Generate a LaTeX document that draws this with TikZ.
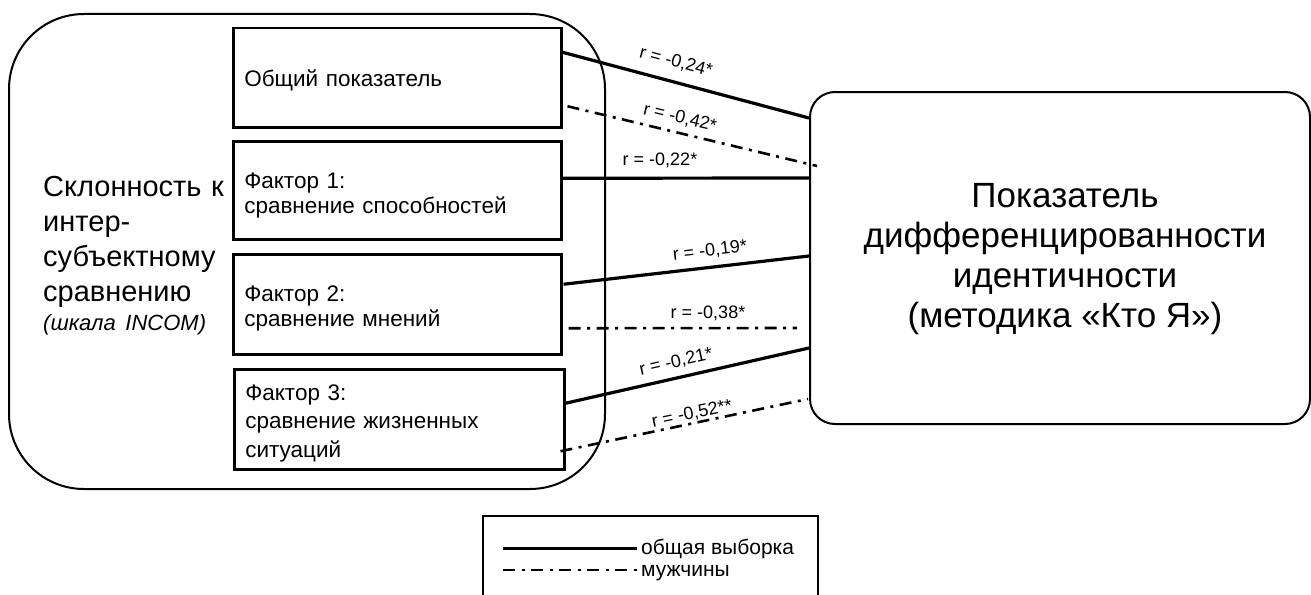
\documentclass[tikz,border=0pt]{standalone}
\usepackage{fontspec}
\setmainfont{Liberation Sans}
\newfontfamily\wideface[WordSpace=1.5]{Liberation Sans}
\newcommand{\fLeft}{\fontsize{29}{35}\selectfont}
\newcommand{\fIt}{\fontsize{22}{26}\selectfont\itshape}
\newcommand{\fBoxA}{\wideface\fontsize{22.5}{25}\selectfont}
\newcommand{\fRight}{\fontsize{35}{40}\selectfont}
\newcommand{\fLbl}{\fontsize{18}{21}\selectfont}
\newcommand{\fLeg}{\fontsize{21}{24}\selectfont}
\begin{document}
\begin{tikzpicture}[x=1pt,y=-1pt,
  outerbox/.style={draw, line width=2pt, rounded corners=75pt, anchor=north west, inner sep=0pt, minimum width=596pt, minimum height=475pt},
  targetbox/.style={draw, line width=2pt, rounded corners=25pt, anchor=north west, inner sep=0pt, minimum width=500pt, minimum height=332pt},
  itembox/.style={draw, line width=2.5pt, anchor=north west, inner xsep=11pt, inner ysep=0pt, text width=306pt, text height=24pt, minimum height=99pt, align=left, font=\fBoxA},
  solidlink/.style={line width=3.2pt},
  menlink/.style={line width=2.6pt, dash pattern=on 12pt off 6.5pt on 3pt off 6.5pt},
  lbl/.style={font=\fLbl, inner sep=0pt},
  legbox/.style={draw, line width=1.6pt, anchor=north west, inner sep=0pt, minimum width=335pt, minimum height=100pt},
]
\useasboundingbox (0,0) rectangle (1311,594);

% outer group frame
\node[outerbox] (L) at (8,13) {};
\node[font=\fLeft, align=left, anchor=base west, inner sep=0pt, text width=190pt] (Ltxt) at (43,196)
  {Склонность к\\интер-\\субъектному\\сравнению\\[-6pt]{\fIt (шкала INCOM)}};

% item boxes
\node[itembox, text height=21pt] (b1) at (232,27) {Общий показатель};
\node[itembox, minimum height=98pt, text height=27pt] (b2) at (232,140) {Фактор 1:\\сравнение способностей};
\node[itembox, minimum height=100pt] (b3) at (232,253) {Фактор 2:\\сравнение мнений};
\node[itembox, minimum height=100pt, text width=308pt, font=\wideface\fontsize{22.5}{28.5}\selectfont] (b4) at (233,368) {Фактор 3:\\сравнение жизненных\\ситуаций};

% target box
\node[targetbox] (R) at (809,91) {};
\node[font=\fRight, align=center, inner sep=0pt] (Rtxt) at (1065,259)
  {Показатель\\дифференцированности\\идентичности\\(методика «Кто Я»)};

% connectors
\draw[solidlink] ([yshift=25.5pt]b1.east) -- ([yshift=140pt]R.west);
\draw[menlink] ([xshift=5pt,yshift=-28.5pt]b1.east) -- ([xshift=8pt,yshift=92pt]R.west);
\draw[solidlink] ([yshift=12pt]b2.east) -- ([yshift=80pt]R.west);
\draw[solidlink] ([xshift=1pt,yshift=20pt]b3.east) -- ([yshift=2pt]R.west);
\draw[menlink] ([xshift=6pt,yshift=-24pt]b3.east) -- ([xshift=-12pt,yshift=-70pt]R.west);
\draw[solidlink] ([yshift=16pt]b4.east) -- ([yshift=-90pt]R.west);
\draw[menlink] ([xshift=-5pt,yshift=-32pt]b4.east) -- ([xshift=-1pt,yshift=-141pt]R.west);

% labels
\node[lbl, rotate=-15] (r1) at (676,62) {r = -0,24*};
\node[lbl, rotate=-13.4] (r2) at (680,118) {r = -0,42*};
\node[lbl] (r3) at (660,160) {r = -0,22*};
\node[lbl, rotate=6.5] (r4) at (710,251) {r = -0,19*};
\node[lbl] (r5) at (708,313) {r = -0,38*};
\node[lbl, rotate=12.6] (r6) at (676,362) {r = -0,21*};
\node[lbl, rotate=11.7] (r7) at (692,414) {r = -0,52**};

% legend
\node[legbox] (Lg) at (482,515) {};
\coordinate (ls1) at (503,548);
\coordinate (le1) at (637,548);
\coordinate (ls2) at (503,570);
\coordinate (le2) at (637,570);
\draw[line width=3pt] (ls1) -- (le1);
\draw[menlink] (ls2) -- (le2);
\node[font=\fLeg, anchor=base west, inner sep=0pt] (lt1) at (641,554) {общая выборка};
\node[font=\fLeg, anchor=base west, inner sep=0pt] (lt2) at (641,576) {мужчины};
\end{tikzpicture}
\end{document}
